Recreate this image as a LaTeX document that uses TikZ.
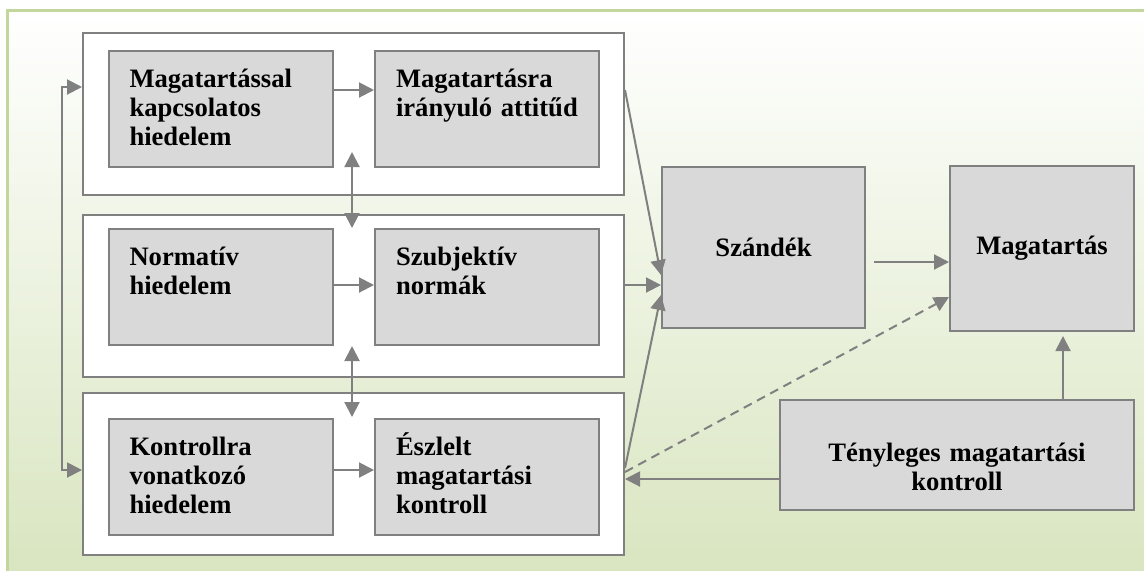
\documentclass[tikz,border=0pt]{standalone}
\usepackage{fontspec}
\setmainfont{Liberation Serif}
\usetikzlibrary{arrows.meta,positioning}

\definecolor{boxgray}{HTML}{D9D9D9}
\definecolor{linegray}{HTML}{808080}
\definecolor{framegreen}{HTML}{C3D69B}
\definecolor{bggreen}{HTML}{D7E4BD}

\begin{document}
\begin{tikzpicture}[x=0.5pt, y=-0.5pt, font=\fontsize{13.3}{14.6}\selectfont\bfseries,
    >={Triangle[length=7.5pt,width=7.5pt]}]
  \tikzset{
    group/.style={draw=linegray, fill=white, line width=1pt, minimum width=270.5pt,
      minimum height=81pt, inner sep=0pt},
    belief/.style={draw=linegray, fill=boxgray, line width=1pt, text width=91pt, align=left,
      inner xsep=10.5pt, inner ysep=0pt, text height=18pt, text depth=40pt},
    stage/.style={draw=linegray, fill=boxgray, line width=1pt, inner sep=0pt},
    link/.style={draw=linegray, line width=1pt, ->}
  }
  \useasboundingbox (0,0) rectangle (1144,570);
  \clip (0,0) rectangle (1144,570);
  \shadedraw[top color=white, bottom color=bggreen, draw=framegreen, line width=1.5pt]
    (7,10) rectangle (1170,600);

  % the three groups of beliefs
  \node[group] (grpA) at (353.5,114) {};
  \node[group] (grpB) at (353.5,296) {};
  \node[group] (grpC) at (353.5,473.5) {};

  \node[belief] (bel)  at (220.5,109) {Magatartással\\kapcsolatos\\hiedelem};
  \node[belief] (att)  at (487,109)   {Magatartásra\\\mbox{irányuló attitűd}};
  \node[belief] (nbel) at (220.5,287) {Normatív\\hiedelem};
  \node[belief] (norm) at (487,287)   {Szubjektív\\normák};
  \node[belief] (cbel) at (220.5,477) {Kontrollra\\vonatkozó\\hiedelem};
  \node[belief] (pbc)  at (487,477)   {Észlelt\\magatartási\\kontroll};

  \node[stage, minimum width=101.5pt, minimum height=80.5pt] (intent) at (763.5,247) {Szándék};
  \node[stage, minimum width=92pt, minimum height=82.5pt] (beh) at (1042,248.5) {Magatartás};
  \node[stage, text width=177pt, align=center, text height=30.5pt, text depth=24.5pt]
    (actual) at (957,455) {Tényleges magatartási\\kontroll};

  \draw[link] (bel.east |- 0,90) -- (att.west |- 0,90);
  \draw[link] (nbel.east |- 0,285) -- (norm.west |- 0,285);
  \draw[link] (cbel.east |- 0,470) -- (pbc.west |- 0,470);

  % links between the groups
  \draw[link, <->] (grpA.west |- 0,87) -- ++(-20,0) |- (grpC.west |- 0,470);
  \coordinate (ab1) at (352,152);
  \coordinate (ab2) at (352,228);
  \coordinate (bc1) at (352,346);
  \coordinate (bc2) at (352,417);
  \draw[link, <->] (ab1) -- (ab2);
  \draw[link, <->] (bc1) -- (bc2);

  \draw[link] (grpA.east |- 0,90) -- (intent.west |- 0,275);
  \draw[link] (grpB.east |- 0,285) -- (intent.west |- 0,285);
  \draw[link] (grpC.east |- 0,468) -- (intent.west |- 0,295);
  \draw[link, shorten <=4pt] (intent.east |- 0,262) -- (beh.west |- 0,262);
  \draw[link, shorten >=2pt] (actual.north -| 1063,0) -- (beh.south -| 1063,0);
  \draw[link] (actual.west |- 0,479) -- (grpC.east |- 0,479);
  \draw[link, dash pattern=on 4.5pt off 3pt] (grpC.east |- 0,472) -- (beh.west |- 0,297);
\end{tikzpicture}
\end{document}
